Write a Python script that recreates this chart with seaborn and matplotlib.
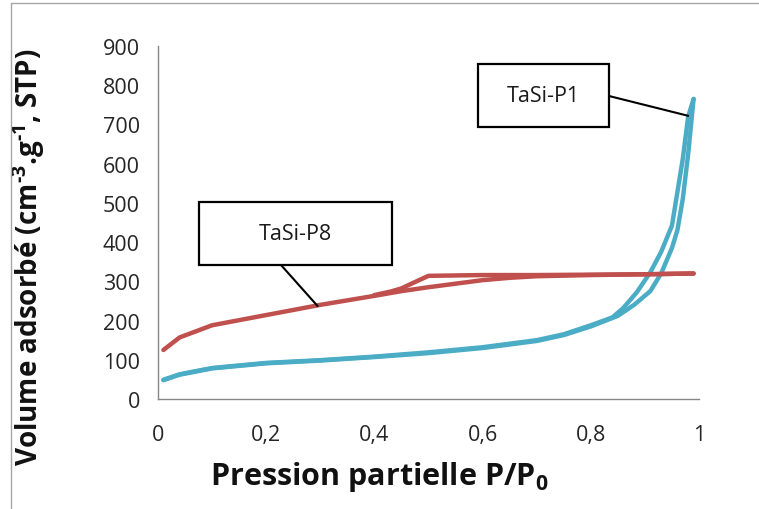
import pandas as pd
import seaborn as sns
import matplotlib.pyplot as plt
from matplotlib.patches import Rectangle
from matplotlib.lines import Line2D

# TaSi-P1 isotherm (adsorption then desorption)
p1_ads_x = [0.01, 0.04, 0.1, 0.2, 0.3, 0.4, 0.5, 0.6, 0.7, 0.75, 0.8, 0.85, 0.88, 0.91, 0.93, 0.95, 0.96, 0.97, 0.98, 0.99]
p1_ads_y = [48, 62, 78, 91, 98, 107, 117, 130, 148, 163, 185, 212, 240, 275, 320, 385, 430, 510, 625, 765]
p1_des_x = [0.99, 0.98, 0.97, 0.95, 0.93, 0.91, 0.885, 0.86, 0.84, 0.8, 0.75, 0.7, 0.6, 0.5, 0.4, 0.3, 0.2, 0.1, 0.04, 0.01]
p1_des_y = [765, 720, 612, 442, 375, 323, 272, 232, 208, 188, 165, 150, 132, 119, 108, 99, 92, 79, 63, 49]

# TaSi-P8 isotherm
p8_ads_x = [0.01, 0.04, 0.1, 0.2, 0.3, 0.4, 0.45, 0.5, 0.55, 0.6, 0.65, 0.7, 0.8, 0.9, 0.99]
p8_ads_y = [125, 157, 188, 214, 240, 263, 275, 285, 294, 303, 309, 313, 316, 318, 320]
p8_des_x = [0.99, 0.9, 0.8, 0.7, 0.6, 0.5, 0.47, 0.45, 0.43, 0.4]
p8_des_y = [320, 318, 317, 316, 316, 314, 295, 282, 274, 265]

x_ticks = [0, 0.2, 0.4, 0.6, 0.8, 1]
x_labels = ["0", "0,2", "0,4", "0,6", "0,8", "1"]
y_ticks = [0, 100, 200, 300, 400, 500, 600, 700, 800, 900]

blue = "#4BACC6"
red = "#C0504D"
grey = "#868686"

sns.set_theme(style="white")
plt.rcParams["font.family"] = ["Open Sans", "DejaVu Sans"]
plt.rcParams["mathtext.fontset"] = "custom"
plt.rcParams["mathtext.rm"] = "Open Sans:bold"
plt.rcParams["mathtext.bf"] = "Open Sans:bold"
plt.rcParams["mathtext.it"] = "Open Sans:bold"
plt.rcParams["mathtext.default"] = "rm"

fig = plt.figure(figsize=(7.59, 5.10), dpi=100)
ax = fig.add_axes([158 / 759, 110 / 510, 541 / 759, 353 / 510])

branches = [
    (p1_ads_x, p1_ads_y, blue),
    (p1_des_x, p1_des_y, blue),
    (p8_ads_x, p8_ads_y, red),
    (p8_des_x, p8_des_y, red),
]
for bx, by, col in branches:
    d = pd.DataFrame({"x": bx, "y": by})
    sns.lineplot(data=d, x="x", y="y", sort=False, estimator=None, color=col,
                 lw=3.2, solid_capstyle="round", solid_joinstyle="round", ax=ax, clip_on=False)

ax.set_xlim(0, 1)
ax.set_ylim(0, 900)
ax.set_xticks(x_ticks)
ax.set_xticklabels(x_labels)
ax.set_yticks(y_ticks)
ax.tick_params(axis="both", labelsize=15.5, colors="#262626", length=5, width=1,
               direction="out", color=grey, pad=8)
ax.tick_params(axis="x", pad=13)
for s in ["top", "right"]:
    ax.spines[s].set_visible(False)
for s in ["left", "bottom"]:
    ax.spines[s].set_color(grey)
    ax.spines[s].set_linewidth(1)

ax.set_xlabel("Pression partielle P/P$_0$", fontsize=22, fontweight="bold", color="#111111")
ax.xaxis.set_label_coords(0.41, -0.17)
ax.set_ylabel(r"Volume adsorbé (cm$^{\text{-}3}$.g$^{\text{-}1}$, STP)", fontsize=20, fontweight="bold", color="#111111")
ax.yaxis.set_label_coords(-0.205, 0.405)

# callout boxes
def callout(x0, y0, x1, y1, text):
    fig.add_artist(Rectangle((x0 / 759, 1 - y1 / 510), (x1 - x0) / 759, (y1 - y0) / 510,
                             transform=fig.transFigure, facecolor="white", edgecolor="black",
                             lw=1.6, zorder=5))
    fig.text((x0 + x1) / 2 / 759, 1 - (y0 + y1) / 2 / 510, text, ha="center", va="center",
             fontsize=15.5, color="#1a1a1a", zorder=6)

callout(478, 65, 609, 128, "TaSi-P1")
ax.annotate("", xy=(0.98, 722), xytext=(609 / 759, 1 - 97 / 510), textcoords="figure fraction",
            arrowprops=dict(arrowstyle="-", color="black", lw=1.5, shrinkA=0, shrinkB=0))
callout(199, 203, 392, 266, "TaSi-P8")
ax.annotate("", xy=(0.295, 237), xytext=(281 / 759, 1 - 266 / 510), textcoords="figure fraction",
            arrowprops=dict(arrowstyle="-", color="black", lw=1.5, shrinkA=0, shrinkB=0))

# outer frame lines
fig.add_artist(Line2D([10.5 / 759, 10.5 / 759], [0, 1 - 4 / 510], transform=fig.transFigure, color="#a6a6a6", lw=1))
fig.add_artist(Line2D([10.5 / 759, 1], [1 - 4 / 510, 1 - 4 / 510], transform=fig.transFigure, color="#a6a6a6", lw=1))

fig.savefig("out.png", dpi=100)
